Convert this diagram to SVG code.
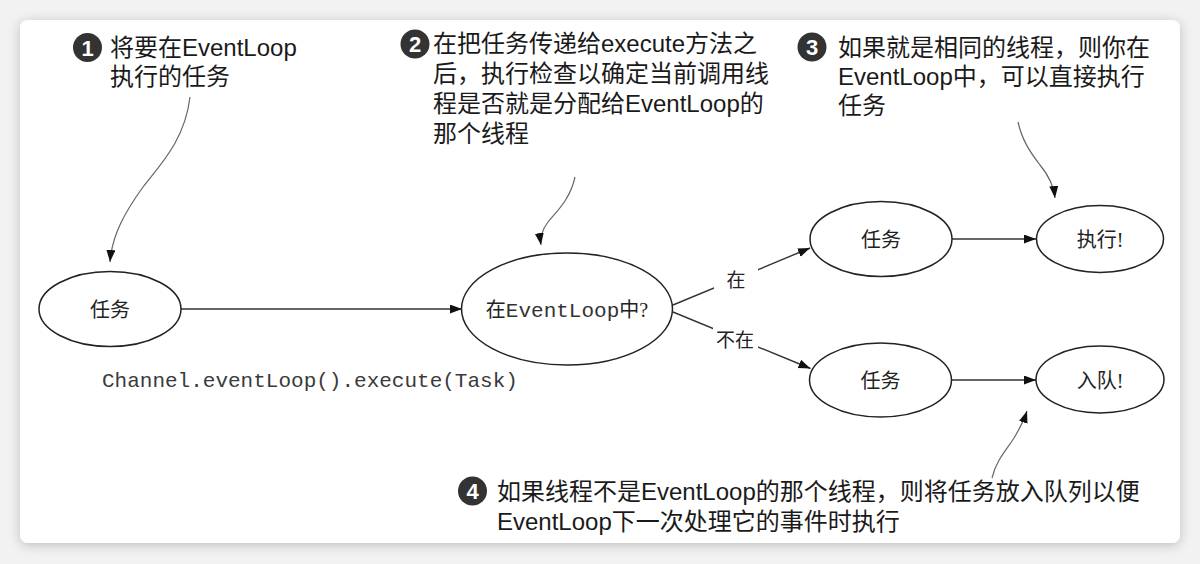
<svg xmlns="http://www.w3.org/2000/svg" width="1200" height="564" viewBox="0 0 1200 564">
  <defs>
    <filter id="shadow" x="-5%" y="-5%" width="110%" height="115%">
      <feDropShadow dx="0" dy="2" stdDeviation="6" flood-color="#000" flood-opacity="0.22"/>
    </filter>
    <marker id="ah" markerUnits="userSpaceOnUse" markerWidth="13" markerHeight="10" refX="12" refY="4.5" orient="auto">
      <path d="M0,0 L12,4.5 L0,9 z" fill="#111"/>
    </marker>
    <style>
      .node ellipse { fill: #fff; stroke: #222; stroke-width: 1.5; }
      .nlabel { font-family: "Liberation Serif", "Noto Sans CJK SC", serif; font-size: 20px; fill: #222; text-anchor: middle; }
      .mono { font-family: "Liberation Mono", "Courier New", monospace; }
      .edge { fill: none; stroke: #333; stroke-width: 1.4; marker-end: url(#ah); }
      .note-curve { fill: none; stroke: #666; stroke-width: 1.2; marker-end: url(#ah); }
      .note { font-family: "Liberation Sans", "Noto Sans CJK SC", sans-serif; font-size: 24px; fill: #1a1a1a; }
      .badge circle { fill: #333; }
      .badge text { font-family: "Liberation Sans Narrow", "Liberation Sans", sans-serif; font-weight: bold; font-size: 22px; fill: #fff; text-anchor: middle; }
      .elabel { font-family: "Liberation Serif", "Noto Sans CJK SC", serif; font-size: 19px; fill: #222; text-anchor: middle; }
    </style>
  </defs>

  <rect x="0" y="0" width="1200" height="564" fill="#f2f2f2"/>
  <rect x="20" y="20" width="1160" height="523" rx="8" fill="#fff" filter="url(#shadow)"/>

  <g id="connectors">
    <line class="edge" x1="181" y1="309" x2="462" y2="309"/>
    <line class="edge" x1="673" y1="305" x2="810" y2="248"/>
    <line class="edge" x1="673" y1="312" x2="810.5" y2="368.5"/>
    <line class="edge" x1="952" y1="239" x2="1036" y2="239"/>
    <line class="edge" x1="951" y1="380" x2="1036" y2="380"/>
    <path class="note-curve" d="M190,97 C185,140 160,165 143,187 C125,212 112,235 110,262"/>
    <path class="note-curve" d="M575,177 C570,200 556,212 548,222 C542,230 540,238 541,245"/>
    <path class="note-curve" d="M1018,122 C1022,140 1030,152 1040,165 C1050,177 1054,188 1055,198"/>
    <path class="note-curve" d="M992,478 C996,460 1008,448 1014,438 C1020,428 1024,420 1027,411"/>
  </g>

  <g id="edge-label-yes">
    <rect x="714" y="252" width="44" height="40" fill="#fff"/>
    <text class="elabel" x="736" y="287">在</text>
  </g>
  <g id="edge-label-no">
    <rect x="713" y="317" width="45" height="41" fill="#fff"/>
    <text class="elabel" x="735" y="347">不在</text>
  </g>

  <g id="node-task" class="node">
    <ellipse cx="110" cy="309" rx="71" ry="37.5"/>
    <text class="nlabel" x="110" y="317">任务</text>
  </g>
  <g id="node-check" class="node">
    <ellipse cx="567" cy="309" rx="105.5" ry="56"/>
    <text class="nlabel" x="567" y="317"><tspan font-family="Noto Sans CJK SC, sans-serif">在</tspan><tspan class="mono" font-size="21" fill="#333">EventLoop</tspan><tspan>中?</tspan></text>
  </g>
  <g id="node-task-yes" class="node">
    <ellipse cx="881" cy="239" rx="71" ry="37.5"/>
    <text class="nlabel" x="881" y="247">任务</text>
  </g>
  <g id="node-execute" class="node">
    <ellipse cx="1100" cy="239" rx="63.5" ry="33.5"/>
    <text class="nlabel" x="1100" y="247">执行!</text>
  </g>
  <g id="node-task-no" class="node">
    <ellipse cx="880.5" cy="380" rx="71" ry="37"/>
    <text class="nlabel" x="880.5" y="388">任务</text>
  </g>
  <g id="node-enqueue" class="node">
    <ellipse cx="1100" cy="379.5" rx="64" ry="33.5"/>
    <text class="nlabel" x="1100" y="388">入队!</text>
  </g>

  <g id="code-label">
    <text class="mono" x="102" y="387" font-size="21" fill="#3a3a3a">Channel.eventLoop().execute(Task)</text>
  </g>

  <g id="note-1">
    <g class="badge"><circle cx="87.5" cy="47.5" r="14.5"/><text x="87.5" y="55.5">1</text></g>
    <text class="note" x="110" y="56">将要在EventLoop</text>
    <text class="note" x="110" y="85">执行的任务</text>
  </g>
  <g id="note-2">
    <g class="badge"><circle cx="415" cy="44" r="14.5"/><text x="415" y="52">2</text></g>
    <text class="note" x="433" y="52">在把任务传递给execute方法之</text>
    <text class="note" x="433" y="82">后，执行检查以确定当前调用线</text>
    <text class="note" x="433" y="112">程是否就是分配给EventLoop的</text>
    <text class="note" x="433" y="142">那个线程</text>
  </g>
  <g id="note-3">
    <g class="badge"><circle cx="812" cy="47" r="14.5"/><text x="812" y="55">3</text></g>
    <text class="note" x="838" y="56">如果就是相同的线程，则你在</text>
    <text class="note" x="838" y="85">EventLoop中，可以直接执行</text>
    <text class="note" x="838" y="114">任务</text>
  </g>
  <g id="note-4">
    <g class="badge"><circle cx="472.5" cy="491" r="14.5"/><text x="472.5" y="499">4</text></g>
    <text class="note" x="497" y="500">如果线程不是EventLoop的那个线程，则将任务放入队列以便</text>
    <text class="note" x="497" y="530">EventLoop下一次处理它的事件时执行</text>
  </g>
</svg>
